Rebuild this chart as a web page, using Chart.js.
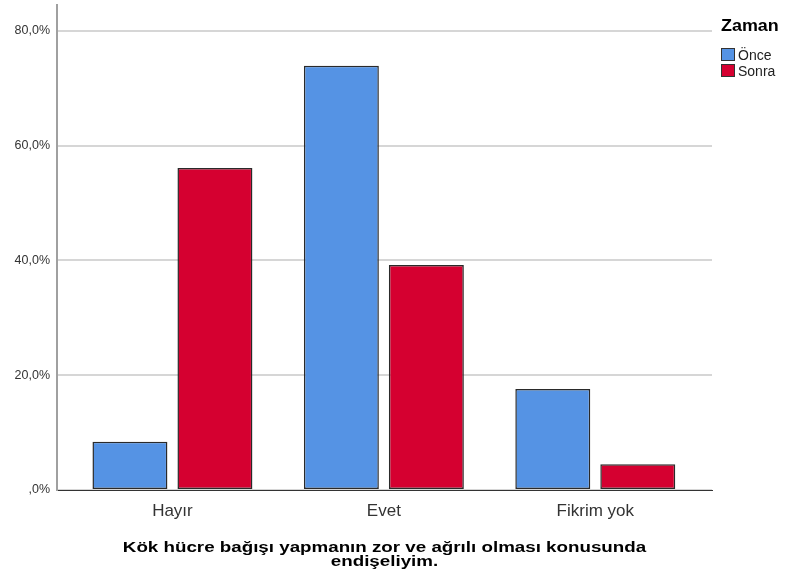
<!DOCTYPE html>
<html>
<head>
<meta charset="utf-8">
<script src="https://cdn.jsdelivr.net/npm/chart.js@4"></script>
<style>
html,body{margin:0;padding:0;background:#fff;}
#wrap{width:785px;height:580px;position:relative;}
</style>
</head>
<body>
<div id="wrap"><canvas id="c" width="785" height="580"></canvas></div>
<script>
const categories = ["Hayır", "Evet", "Fikrim yok"];
const onceValues = [8.4, 73.9, 17.6];
const sonraValues = [56.1, 39.2, 4.5];
const seriesNames = ["Önce", "Sonra"];
const yTicks = [0, 20, 40, 60, 80];
const legendTitle = "Zaman";
const xTitle = ["Kök hücre bağışı yapmanın zor ve ağrılı olması konusunda", "endişeliyim."];

const BLUE = "rgb(85,147,228)";
const RED = "rgb(213,0,48)";
const FONT = '"Liberation Sans", Arial, sans-serif';

function toPoints(vals){ return vals.map((v,i)=>({x:i, y:v})); }

const textPlugin = {
  id: 'spssText',
  afterDraw(chart){
    const ctx = chart.ctx;
    const area = chart.chartArea;
    ctx.save();
    ctx.fillStyle = '#000';
    ctx.textBaseline = 'alphabetic';
    ctx.textAlign = 'left';
    ctx.save();
    ctx.translate(721, 31);
    ctx.scale(1.12, 1);
    ctx.font = 'bold 16px ' + FONT;
    ctx.fillText(legendTitle, 0, 0);
    ctx.restore();
    ctx.font = '14px ' + FONT;
    chart.data.datasets.forEach((ds, i) => {
      const y = 48 + i * 16;
      ctx.fillStyle = ds.backgroundColor;
      ctx.fillRect(721, y, 14, 13);
      ctx.strokeStyle = '#333';
      ctx.lineWidth = 1;
      ctx.strokeRect(721.5, y + 0.5, 13, 12);
      ctx.fillStyle = '#222';
      ctx.fillText(ds.label, 738, y + 12);
    });
    const cx = (area.left + area.right) / 2;
    ctx.fillStyle = '#000';
    ctx.textAlign = 'center';
    ctx.font = 'bold 14px ' + FONT;
    xTitle.forEach((line, i) => {
      ctx.save();
      ctx.translate(cx, 552 + i * 14);
      ctx.scale(1.34, 1);
      ctx.fillText(line, 0, 0);
      ctx.restore();
    });
    ctx.restore();
  }
};

new Chart(document.getElementById('c'), {
  type: 'bar',
  data: {
    datasets: [
      { label: seriesNames[0], data: toPoints(onceValues), backgroundColor: BLUE, borderColor: '#2a2a2a', borderWidth: 1.5, borderSkipped: false },
      { label: seriesNames[1], data: toPoints(sonraValues), backgroundColor: RED, borderColor: '#2a2a2a', borderWidth: 1.5, borderSkipped: false }
    ]
  },
  options: {
    responsive: false,
    animation: false,
    devicePixelRatio: 1,
    layout: { padding: { top: 5, right: 73, bottom: 0, left: 0 } },
    categoryPercentage: 0.804,
    barPercentage: 0.882,
    plugins: { legend: { display: false }, tooltip: { enabled: false } },
    scales: {
      x: {
        type: 'linear',
        min: -0.546,
        max: 2.552,
        offset: false,
        afterBuildTicks(scale){ scale.ticks = categories.map((c,i)=>({value:i})); },
        afterFit(scale){ scale.height = 90; scale.paddingLeft = 0; scale.paddingRight = 0; },
        grid: { display: false, drawTicks: false },
        border: { display: true, color: '#333', width: 1 },
        ticks: {
          padding: 11,
          color: '#333',
          font: { family: FONT, size: 17 },
          callback(v){ return categories[v] !== undefined ? categories[v] : ''; },
          maxRotation: 0, autoSkip: false
        },
        title: { display: false }
      },
      y: {
        min: 0,
        max: 84.5,
        afterFit(scale){ scale.width = 57; scale.paddingTop = 0; scale.paddingBottom = 0; },
        afterBuildTicks(scale){ scale.ticks = yTicks.map(v=>({value:v})); },
        grid: { color: '#d6d6d6', lineWidth: 2, drawTicks: false },
        border: { display: true, color: '#a0a0a0', width: 2 },
        ticks: {
          padding: 7,
          color: '#333',
          font: { family: FONT, size: 12.5 },
          callback(v){ return v === 0 ? ',0%' : v.toFixed(1).replace('.', ',') + '%'; }
        }
      }
    }
  },
  plugins: [textPlugin]
});
</script>
</body>
</html>
